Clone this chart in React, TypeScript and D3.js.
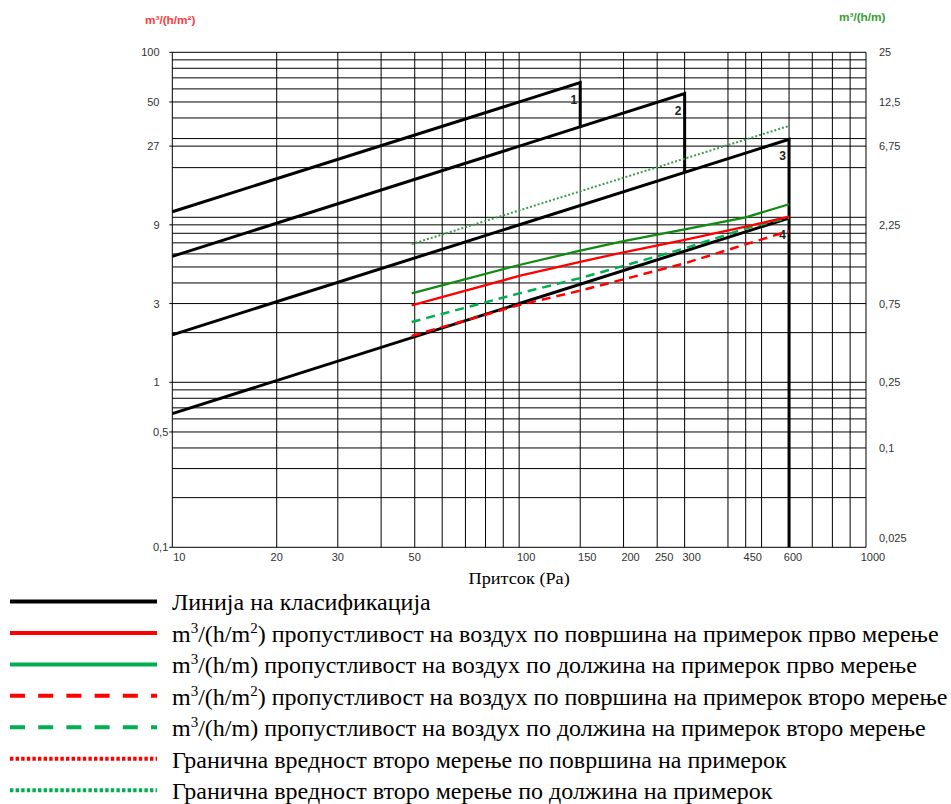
import React from "react";
import * as d3 from "d3";

// ---- data ----
const xTickValues = [10, 20, 30, 50, 100, 150, 200, 250, 300, 450, 600, 1000];
const xGridValues = [10, 20, 30, 40, 50, 60, 70, 80, 90, 100, 150, 200, 250, 300, 400, 450, 500, 600, 700, 800, 900, 1000];
const yGridValues = [0.1, 0.2, 0.3, 0.4, 0.5, 0.6, 0.7, 0.8, 0.9, 1, 2, 3, 4, 5, 6, 7, 8, 9, 10, 20, 27, 30, 40, 50, 60, 70, 80, 90, 100];
const yLeftTicks = [100, 50, 27, 9, 3, 1, 0.5, 0.1];
const yRightTicks = [25, 12.5, 6.75, 2.25, 0.75, 0.25, 0.1, 0.025];

// classification lines [Pa, m3/(h m2)]
const class1: [number, number][] = [[10, 10.8], [150, 65.5], [150, 35.4]];
const class2: [number, number][] = [[10, 5.8], [300, 56.2], [300, 18.7]];
const class3: [number, number][] = [[10, 1.94], [600, 29.7], [600, 0.1]];
const class4: [number, number][] = [[10, 0.646], [600, 9.9]];
const classLabels = ["1", "2", "3", "4"];

// measurements
const pressures = [49, 100, 150, 200, 300, 450, 600];
const areaFirst = [2.93, 4.41, 5.36, 6.14, 7.29, 8.77, 10.08]; // m3/(h m2)
const lengthFirst = [0.865, 1.285, 1.57, 1.795, 2.115, 2.5, 3.0]; // m3/(h m)
const areaSecond = [1.91, 2.94, 3.59, 4.21, 5.26, 6.86, 8.26];
const lengthSecond = [0.58, 0.865, 1.07, 1.27, 1.62, 2.14, 2.49];

const limitPressures = [49, 600];
const areaLimit = [5.6, 29.7];
const lengthLimit = [1.72, 8.95];

const legendItems = [
  { color: "#000000", dash: "", text: [["Линија на класификација", ""]] },
  { color: "#ff0000", dash: "", text: [["m", ""], ["3", "sup"], ["/(h/m", ""], ["2", "sup"], [") пропустливост на воздух по површина на примерок прво мерење", ""]] },
  { color: "#00b050", dash: "", text: [["m", ""], ["3", "sup"], ["/(h/m) пропустливост на воздух по должина на примерок прво мерење", ""]] },
  { color: "#ff0000", dash: "15 13.2", text: [["m", ""], ["3", "sup"], ["/(h/m", ""], ["2", "sup"], [") пропустливост на воздух по површина на примерок второ мерење", ""]] },
  { color: "#00b050", dash: "15 13.2", text: [["m", ""], ["3", "sup"], ["/(h/m) пропустливост на воздух по должина на примерок второ мерење", ""]] },
  { color: "#ff0000", dash: "3.4 2.2", text: [["Гранична вредност второ мерење по површина на примерок", ""]] },
  { color: "#00b050", dash: "3.4 2.2", text: [["Гранична вредност второ мерење по должина на примерок", ""]] },
];

const W = 951;
const H = 804;
const x = d3.scaleLog().domain([10, 1000]).range([172.3, 866]);
const yL = d3.scaleLog().domain([0.1, 100]).range([547.3, 52.3]);
const yR = d3.scaleLog().domain([0.025, 25]).range([547.3, 52.3]);

const fmt = (v: number) => String(v).replace(".", ",");

export default function App() {
  const lineL = d3.line<[number, number]>().x((d) => x(d[0])).y((d) => yL(d[1]));
  const lineR = d3.line<[number, number]>().x((d) => x(d[0])).y((d) => yR(d[1]));
  const zip = (ps: number[], vs: number[]) => ps.map((p, i) => [p, vs[i]] as [number, number]);
  const classes = [class1, class2, class3, class4];
  const sansStyle = { fontFamily: "Liberation Sans" };
  const serifStyle = { fontFamily: "Liberation Serif" };

  return (
    <svg width={W} height={H} style={{ position: "absolute", left: 0, top: 0, background: "#fff" }}>
      {/* axis unit labels */}
      <text x={145} y={23.5} fill="#ff3b3b" style={sansStyle} fontSize={11.8} fontWeight="bold">m³/(h/m²)</text>
      <text x={839} y={20.5} fill="#33a033" style={sansStyle} fontSize={11.8} fontWeight="bold">m³/(h/m)</text>

      {/* grid */}
      <g stroke="#000" strokeWidth={1}>
        {yGridValues.map((v) => (
          <line key={"h" + v} x1={x(10)} x2={x(1000)} y1={yL(v)} y2={yL(v)} />
        ))}
        {xGridValues.map((v) => (
          <line key={"v" + v} x1={x(v)} x2={x(v)} y1={yL(0.1)} y2={yL(100)} />
        ))}
        {yLeftTicks.map((v) => (
          <line key={"t" + v} x1={x(10) - 3} x2={x(10)} y1={yL(v)} y2={yL(v)} />
        ))}
      </g>

      {/* tick labels */}
      <g style={sansStyle} fontSize={11} fill="#333">
        {yLeftTicks.map((v) => {
          const s = fmt(v);
          const hasComma = s.includes(",");
          return (
            <text key={"yl" + v} x={hasComma ? 153 : 159.5} y={yL(v) + 4} textAnchor={hasComma ? "start" : "end"}>
              {s}
            </text>
          );
        })}
        {yRightTicks.map((v, i) => (
          <text key={"yr" + v} x={879} y={yR(v) + 4 - (i === yRightTicks.length - 1 ? 9 : 0)} textAnchor="start">
            {fmt(v)}
          </text>
        ))}
        {xTickValues.map((v) => {
          const off = v === 20 || v === 30 || v === 50 ? 0 : v === 600 ? 4 : 7;
          return (
            <text key={"x" + v} x={x(v) + off} y={561} textAnchor="middle">
              {v}
            </text>
          );
        })}
      </g>
      <text transform={`translate(${x(100)},584) scale(1.14,1)`} textAnchor="middle" style={serifStyle} fontSize={16} fill="#000">
        Притсок (Pa)
      </text>

      {/* limit lines */}
      <path d={lineL(zip(limitPressures, areaLimit)) || ""} fill="none" stroke="#ff0000" strokeWidth={2} strokeDasharray="2 2" />

      {/* classification lines */}
      <g fill="none" stroke="#000" strokeWidth={3}>
        {classes.map((c, i) => (
          <path key={"c" + i} d={lineL(c) || ""} />
        ))}
      </g>
      <g style={sansStyle} fontSize={12} fontWeight="bold" fill="#222" textAnchor="middle">
        {classes.map((c, i) => {
          const peak = c[1];
          return (
            <text key={"cl" + i} x={x(peak[0]) - 6.5} y={yL(peak[1]) + 21}>
              {classLabels[i]}
            </text>
          );
        })}
      </g>

      <path d={lineR(zip(limitPressures, lengthLimit)) || ""} fill="none" stroke="#3c9a4c" strokeWidth={2} strokeDasharray="2 2" />

      {/* measurements */}
      <path d={lineR(zip(pressures, lengthSecond)) || ""} fill="none" stroke="#00b050" strokeWidth={2.5} strokeDasharray="9 6" />
      <path d={lineL(zip(pressures, areaSecond)) || ""} fill="none" stroke="#ff0000" strokeWidth={2.5} strokeDasharray="9 6" />
      <path d={lineR(zip(pressures, lengthFirst)) || ""} fill="none" stroke="#118a11" strokeWidth={2.3} />
      <path d={lineL(zip(pressures, areaFirst)) || ""} fill="none" stroke="#ff0000" strokeWidth={2.3} />

      {/* legend */}
      <g>
        {legendItems.map((it, i) => {
          const ly = 601.5 + i * 31.45;
          return (
            <g key={"lg" + i}>
              <line x1={10} x2={157} y1={ly} y2={ly} stroke={it.color} strokeWidth={4} strokeDasharray={it.dash || undefined} />
              <text x={172} y={ly + 8.8} style={serifStyle} fontSize={24} fill="#000">
                {it.text.map((t, j) =>
                  t[1] === "sup" ? (
                    <tspan key={j} fontSize={15} dy={-9}>{t[0]}</tspan>
                  ) : (
                    <tspan key={j} dy={j > 0 && it.text[j - 1][1] === "sup" ? 9 : 0}>{t[0]}</tspan>
                  )
                )}
              </text>
            </g>
          );
        })}
      </g>
    </svg>
  );
}
